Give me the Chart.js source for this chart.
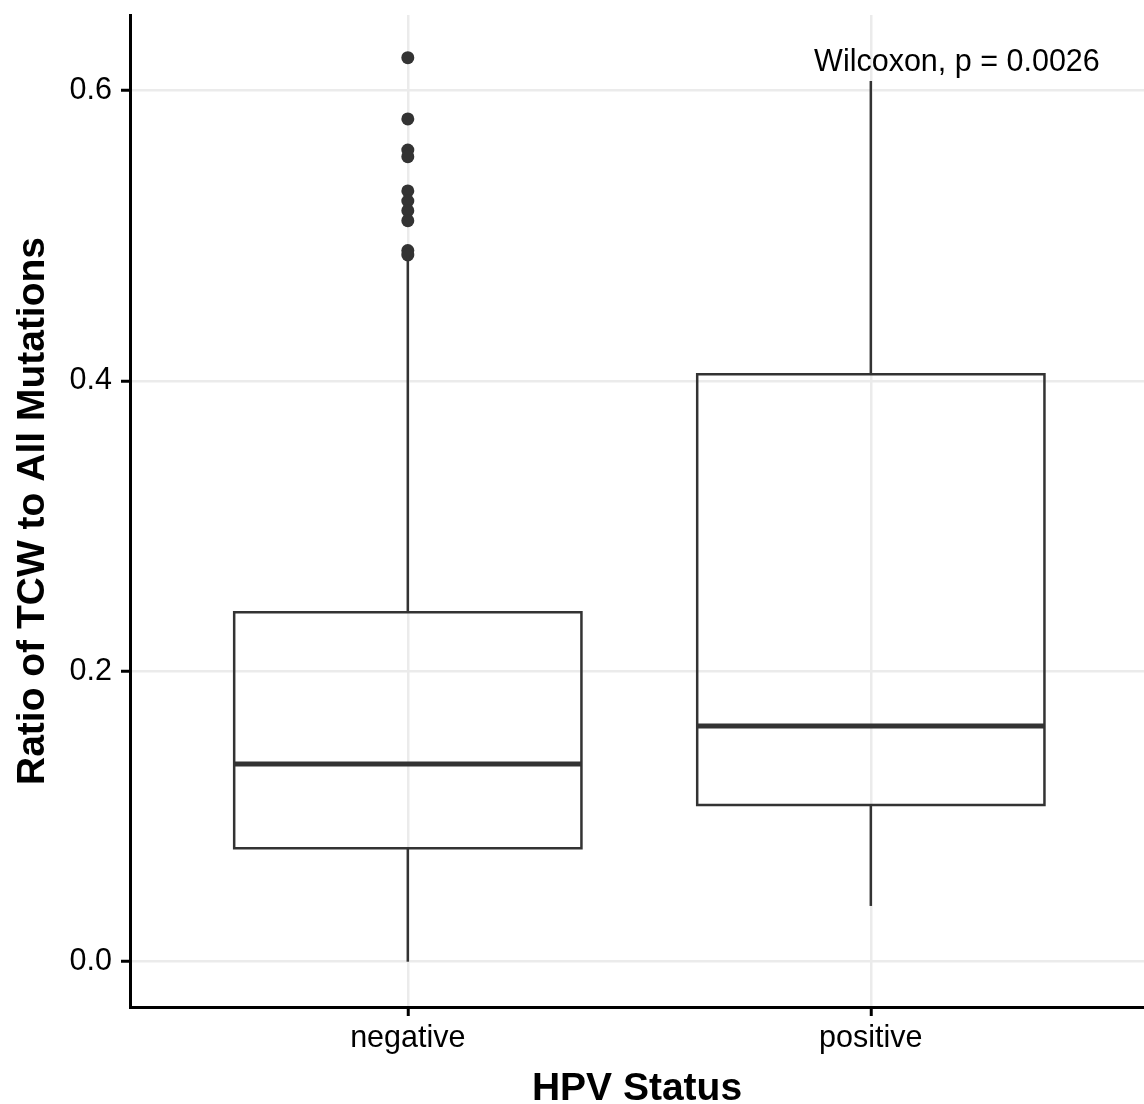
<!DOCTYPE html>
<html>
<head>
<meta charset="utf-8">
<script src="https://cdn.jsdelivr.net/npm/chart.js@4"></script>
<style>
  html, body { margin: 0; padding: 0; background: #ffffff; }
  #wrap { width: 1144px; height: 1104px; }
</style>
</head>
<body>
<div id="wrap"><canvas id="boxplot" width="1144" height="1104"></canvas></div>
<script>
// box statistics per HPV group
const categories = ['negative', 'positive'];
const whiskerLow = [0.0, 0.0384];
const q1 = [0.0781, 0.1080];
const median = [0.1362, 0.1624];
const q3 = [0.2407, 0.4046];
const whiskerHigh = [0.4868, 0.6067];
const outliersNegative = [0.6227, 0.5805, 0.5591, 0.5545, 0.5309, 0.5240, 0.5173, 0.5104, 0.4898, 0.4868];
const outliersPositive = [];
const yTicks = [0, 0.2, 0.4, 0.6];
const pValueText = 'Wilcoxon, p = 0.0026';

const FONT = "'Liberation Sans', Arial, Helvetica, sans-serif";
const INK = '#333333';
const HALF = 0.375; // half box width in category units

const datasets = [];
categories.forEach((cat, i) => {
    const x = i + 1;
    // whiskers
    datasets.push({
        data: [{x: x, y: whiskerLow[i]}, {x: x, y: q1[i]}],
        borderColor: INK, borderWidth: 2.5, showLine: true, pointRadius: 0
    });
    datasets.push({
        data: [{x: x, y: q3[i]}, {x: x, y: whiskerHigh[i]}],
        borderColor: INK, borderWidth: 2.5, showLine: true, pointRadius: 0
    });
    // box
    datasets.push({
        data: [
            {x: x - HALF, y: q1[i]}, {x: x + HALF, y: q1[i]},
            {x: x + HALF, y: q3[i]}, {x: x - HALF, y: q3[i]},
            {x: x - HALF, y: q1[i]}
        ],
        borderColor: INK, borderWidth: 2.5, showLine: true, pointRadius: 0,
        borderJoinStyle: 'miter', borderCapStyle: 'square'
    });
    // median
    datasets.push({
        data: [{x: x - HALF, y: median[i]}, {x: x + HALF, y: median[i]}],
        borderColor: INK, borderWidth: 5, showLine: true, pointRadius: 0
    });
});
// outliers
const outlierPts = outliersNegative.map(v => ({x: 1, y: v}))
    .concat(outliersPositive.map(v => ({x: 2, y: v})));
datasets.push({
    data: outlierPts,
    showLine: false,
    pointRadius: 6.5,
    pointBackgroundColor: INK,
    pointBorderColor: INK,
    pointBorderWidth: 0
});

const pLabelPlugin = {
    id: 'pLabel',
    afterDatasetsDraw(chart) {
        const ctx = chart.ctx;
        const xs = chart.scales.x, ys = chart.scales.y;
        ctx.save();
        ctx.fillStyle = '#000000';
        ctx.font = '30.5px ' + FONT;
        ctx.textAlign = 'center';
        ctx.textBaseline = 'middle';
        ctx.fillText(pValueText, xs.getPixelForValue(2.186), ys.getPixelForValue(0.619));
        ctx.restore();
    }
};

const ctx = document.getElementById('boxplot').getContext('2d');
new Chart(ctx, {
    type: 'scatter',
    data: { datasets: datasets },
    options: {
        responsive: false,
        animation: false,
        layout: { autoPadding: false, padding: { top: 15, right: 0, left: 0, bottom: 0 } },
        plugins: {
            legend: { display: false },
            tooltip: { enabled: false }
        },
        scales: {
            x: {
                type: 'linear',
                min: 0.4,
                max: 2.59,
                afterBuildTicks: s => { s.ticks = categories.map((c, i) => ({value: i + 1})); },
                afterFit: s => { s.height = 97; s.paddingLeft = 0; s.paddingRight = 0; },
                grid: {
                    color: '#ebebeb',
                    lineWidth: 2.5,
                    tickColor: '#000000',
                    tickWidth: 3,
                    tickLength: 9
                },
                border: { display: true, color: '#000000', width: 3 },
                ticks: {
                    padding: 4,
                    color: '#000000',
                    font: { family: FONT, size: 30.5 },
                    callback: v => categories[Math.round(v) - 1]
                },
                title: {
                    display: true,
                    text: 'HPV Status',
                    color: '#000000',
                    font: { family: FONT, size: 39, weight: 'bold', lineHeight: 0.75 },
                    padding: { top: 0, bottom: 0 }
                }
            },
            y: {
                min: -0.0312,
                max: 0.6521,
                afterBuildTicks: s => { s.ticks = yTicks.map(v => ({value: v})); },
                afterFit: s => { s.width = 130; s.paddingTop = 0; s.paddingBottom = 0; },
                grid: {
                    color: '#ebebeb',
                    lineWidth: 2.5,
                    tickColor: '#000000',
                    tickWidth: 3,
                    tickLength: 9
                },
                border: { display: true, color: '#000000', width: 3 },
                ticks: {
                    padding: 9,
                    color: '#000000',
                    font: { family: FONT, size: 30.5 },
                    callback: v => v.toFixed(1)
                },
                title: {
                    display: true,
                    text: 'Ratio of TCW to All Mutations',
                    color: '#000000',
                    font: { family: FONT, size: 39, weight: 'bold', lineHeight: 1.2 },
                    padding: { top: 10, bottom: 0 }
                }
            }
        }
    },
    plugins: [pLabelPlugin]
});
</script>
</body>
</html>
